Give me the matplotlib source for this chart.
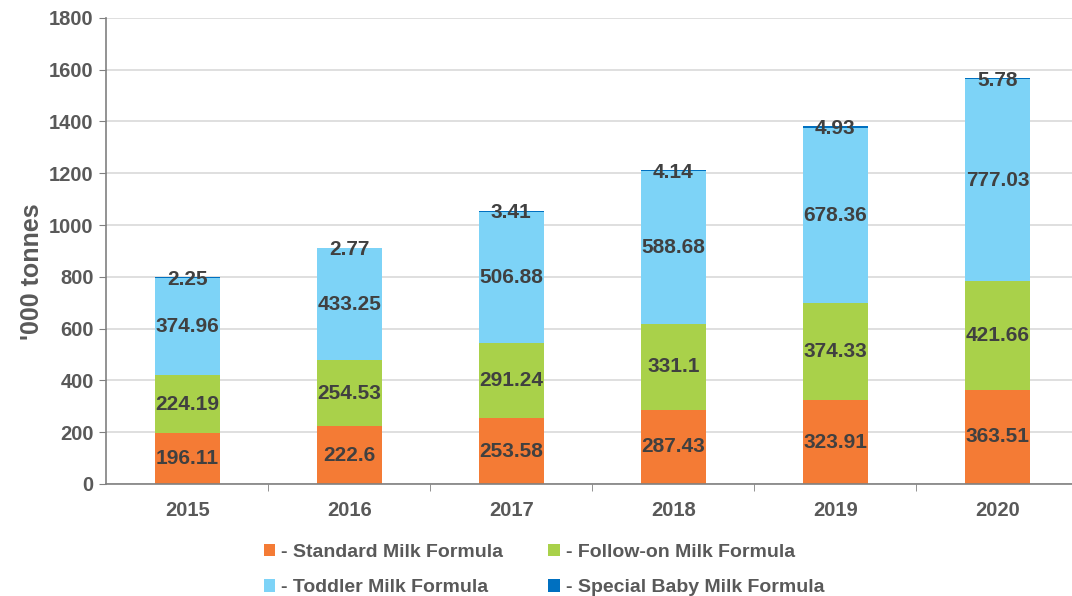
import matplotlib.pyplot as plt
import numpy as np
from matplotlib.patches import Patch

plt.rcParams['font.family'] = ['Liberation Sans', 'DejaVu Sans']

years = ['2015', '2016', '2017', '2018', '2019', '2020']
standard = [196.11, 222.6, 253.58, 287.43, 323.91, 363.51]
follow_on = [224.19, 254.53, 291.24, 331.1, 374.33, 421.66]
toddler = [374.96, 433.25, 506.88, 588.68, 678.36, 777.03]
special = [2.25, 2.77, 3.41, 4.14, 4.93, 5.78]

series_names = ['- Standard Milk Formula', '- Follow-on Milk Formula',
                '- Toddler Milk Formula', '- Special Baby Milk Formula']
colors = ['#F47B35', '#A9D14A', '#7DD3F7', '#0070C0']

text_col = '#404040'
tick_col = '#595959'

fig = plt.figure(figsize=(10.72, 5.96), dpi=100)
ax = fig.add_axes([0.099, 0.188, 0.907, 0.782])

x = np.arange(len(years))
width = 0.4
bottom = np.zeros(len(years))
for vals, c in zip([standard, follow_on, toddler, special], colors):
    ax.bar(x, vals, width, bottom=bottom, color=c, zorder=2)
    bottom += np.array(vals)

# value labels centred in each segment
base = np.zeros(len(years))
for vals in [standard, follow_on, toddler]:
    for i, v in enumerate(vals):
        ax.text(x[i], base[i] + v / 2, '{:g}'.format(v), ha='center', va='center',
                fontsize=15, fontweight='bold', color=text_col, zorder=3)
    base += np.array(vals)
for i, v in enumerate(special):
    ax.text(x[i], base[i] + v - 8, '{:g}'.format(v), ha='center', va='center',
            fontsize=15, fontweight='bold', color=text_col, zorder=3)

ax.set_ylim(0, 1800)
ax.set_yticks(np.arange(0, 1801, 200))
ax.set_xlim(-0.5, len(years) - 0.5)
ax.set_xticks(x)
ax.set_xticklabels(years)
ax.set_xticks(np.arange(0.5, len(years) - 0.5, 1), minor=True)
ax.tick_params(axis='x', which='major', length=0, pad=12)
ax.tick_params(axis='x', which='minor', length=5, color='#808080', direction='out')
ax.tick_params(axis='y', length=5, color='#808080', pad=4)
for lab in ax.get_xticklabels() + ax.get_yticklabels():
    lab.set_fontsize(14.5)
    lab.set_fontweight('bold')
    lab.set_color(tick_col)

ax.grid(axis='y', color='#D9D9D9', linewidth=1.2, zorder=0)
ax.set_axisbelow(True)
for s in ['top', 'right']:
    ax.spines[s].set_visible(False)
ax.spines['left'].set_color('#808080')
ax.spines['bottom'].set_color('#808080')
ax.spines['left'].set_linewidth(1.2)
ax.spines['bottom'].set_linewidth(1.2)

ax.set_ylabel("'000 tonnes", fontsize=18, fontweight='bold', color=tick_col)
ax.yaxis.set_label_coords(-0.064, 0.455)

# legend fills column by column, so order the entries to read row by row
order = [0, 2, 1, 3]
handles = [Patch(facecolor=colors[k]) for k in order]
labels = [series_names[k] for k in order]
leg = fig.legend(handles, labels, loc='lower left', bbox_to_anchor=(0.2295, -0.03),
                 ncol=2, frameon=False, handlelength=0.6, handleheight=0.6,
                 handletextpad=0.3, columnspacing=2.33, labelspacing=0.95,
                 prop={'size': 14, 'weight': 'bold'})
for t in leg.get_texts():
    t.set_color(tick_col)

fig.savefig('out.png', dpi=100)
